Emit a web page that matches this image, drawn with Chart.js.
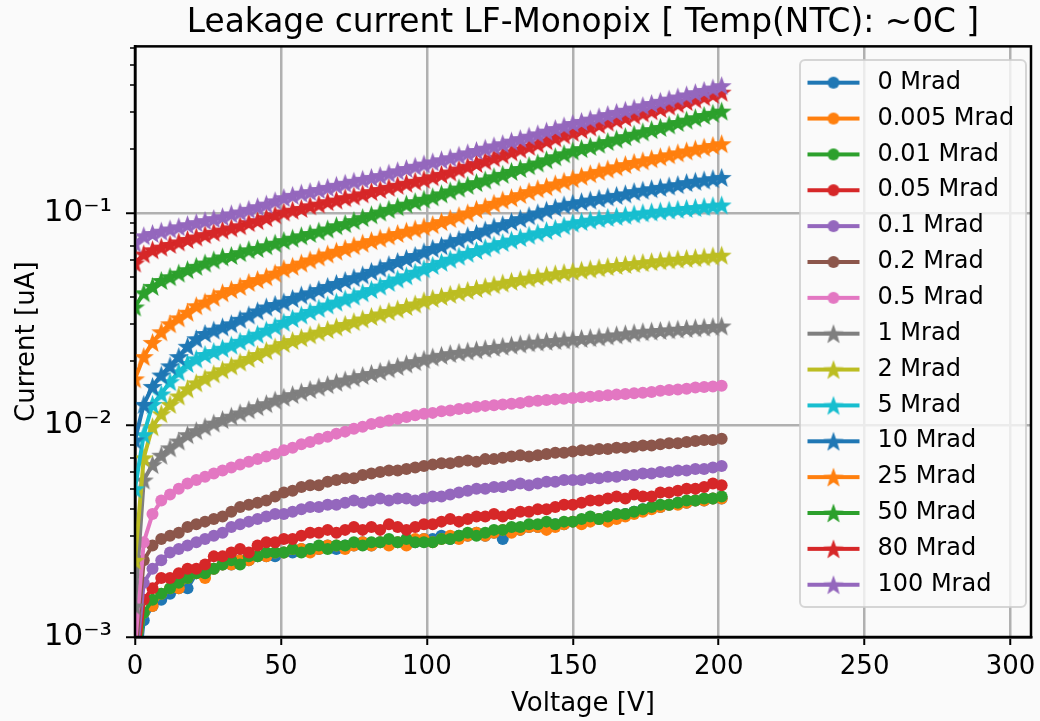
<!DOCTYPE html>
<html><head><meta charset="utf-8">
<script src="https://cdn.jsdelivr.net/npm/chart.js@4/dist/chart.umd.min.js"></script>
<style>html,body{margin:0;padding:0;background:#fafafa;}</style>
</head><body>
<canvas id="c" width="1040" height="721"></canvas>
<script>
const voltage = [0,3,6,9,12,15,18,21,24,27,30,33,36,39,42,45,48,
 51,54,57,60,63,66,69,72,75,78,81,84,87,90,93,96,99,
 102,105,108,111,114,117,120,123,126,129,132,135,138,141,144,147,150,
 153,156,159,162,165,168,171,174,177,180,183,186,189,192,195,198,201];

const mrad0 = [0.0005,0.0012,0.0014,0.0015,0.0016,0.0017,0.0017,0.0020,0.0021,0.0021,0.0022,0.0022,0.0023,0.0023,0.0024,0.0024,0.0024,
 0.0025,0.0025,0.0026,0.0026,0.0026,0.0027,0.0026,0.0027,0.0027,0.0028,0.0027,0.0028,0.0028,0.0028,0.0029,0.0028,0.0029,
 0.0029,0.0030,0.0029,0.0030,0.0030,0.0031,0.0030,0.0031,0.0029,0.0032,0.0032,0.0033,0.0033,0.0034,0.0034,0.0034,0.0035,
 0.0035,0.0036,0.0036,0.0037,0.0037,0.0038,0.0039,0.0040,0.0041,0.0041,0.0042,0.0043,0.0043,0.0044,0.0044,0.0045,0.0045];
const mrad0005 = [0.0006,0.0013,0.0014,0.0016,0.0017,0.0017,0.0019,0.0020,0.0019,0.0021,0.0022,0.0022,0.0023,0.0023,0.0024,0.0024,0.0025,
 0.0025,0.0026,0.0026,0.0025,0.0026,0.0027,0.0027,0.0026,0.0027,0.0028,0.0027,0.0028,0.0027,0.0028,0.0027,0.0029,0.0029,
 0.0028,0.0029,0.0030,0.0029,0.0030,0.0031,0.0030,0.0031,0.0032,0.0031,0.0032,0.0033,0.0033,0.0032,0.0033,0.0034,0.0035,
 0.0034,0.0035,0.0036,0.0035,0.0036,0.0037,0.0038,0.0039,0.0040,0.0041,0.0042,0.0042,0.0043,0.0044,0.0044,0.0045,0.0045];
const mrad001 = [0.0006,0.0013,0.0015,0.0016,0.0017,0.0018,0.0019,0.0020,0.0020,0.0021,0.0022,0.0023,0.0022,0.0024,0.0024,0.0025,0.0025,
 0.0025,0.0026,0.0025,0.0026,0.0027,0.0026,0.0027,0.0027,0.0028,0.0027,0.0028,0.0028,0.0029,0.0028,0.0029,0.0028,0.0028,
 0.0028,0.0029,0.0029,0.0030,0.0031,0.0030,0.0031,0.0032,0.0032,0.0033,0.0033,0.0034,0.0034,0.0035,0.0034,0.0035,0.0035,
 0.0036,0.0037,0.0036,0.0037,0.0038,0.0038,0.0039,0.0040,0.0041,0.0042,0.0042,0.0043,0.0044,0.0044,0.0045,0.0045,0.0046];
const mrad005 = [0.0006,0.0015,0.0017,0.0019,0.0019,0.0020,0.0021,0.0021,0.0022,0.0024,0.0024,0.0025,0.0026,0.0025,0.0027,0.0028,0.0028,
 0.0029,0.0029,0.0030,0.0031,0.0031,0.0032,0.0031,0.0032,0.0033,0.0032,0.0033,0.0032,0.0034,0.0033,0.0032,0.0033,0.0034,
 0.0034,0.0035,0.0036,0.0035,0.0036,0.0037,0.0037,0.0038,0.0037,0.0038,0.0039,0.0039,0.0040,0.0040,0.0041,0.0042,0.0042,
 0.0043,0.0044,0.0044,0.0045,0.0046,0.0045,0.0047,0.0046,0.0046,0.0048,0.0048,0.0049,0.0050,0.0050,0.0051,0.0053,0.0052];
const mrad01 = [0.0007,0.0018,0.0021,0.0023,0.0025,0.0026,0.0027,0.0028,0.0029,0.0030,0.0031,0.0033,0.0034,0.0035,0.0036,0.0037,0.0038,
 0.0038,0.0039,0.0040,0.0041,0.0041,0.0042,0.0042,0.0043,0.0044,0.0043,0.0044,0.0045,0.0044,0.0045,0.0045,0.0044,0.0045,
 0.0046,0.0046,0.0047,0.0048,0.0049,0.0050,0.0050,0.0051,0.0051,0.0052,0.0053,0.0052,0.0053,0.0054,0.0054,0.0055,0.0055,
 0.0055,0.0056,0.0056,0.0057,0.0057,0.0058,0.0058,0.0059,0.0059,0.0060,0.0060,0.0061,0.0061,0.0062,0.0062,0.0063,0.0064];
const mrad02 = [0.0008,0.0023,0.0027,0.0029,0.0030,0.0031,0.0033,0.0034,0.0035,0.0036,0.0037,0.0039,0.0041,0.0042,0.0043,0.0044,0.0046,
 0.0048,0.0049,0.0051,0.0052,0.0052,0.0054,0.0055,0.0056,0.0056,0.0058,0.0059,0.0060,0.0061,0.0061,0.0062,0.0063,0.0064,
 0.0065,0.0066,0.0066,0.0067,0.0068,0.0067,0.0069,0.0069,0.0070,0.0071,0.0072,0.0071,0.0072,0.0073,0.0074,0.0074,0.0075,
 0.0076,0.0076,0.0077,0.0077,0.0078,0.0078,0.0079,0.0080,0.0080,0.0081,0.0082,0.0082,0.0083,0.0084,0.0085,0.0085,0.0086];
const mrad05 = [0.0009,0.0028,0.0038,0.0044,0.0047,0.0050,0.0053,0.0055,0.0057,0.0059,0.0061,0.0063,0.0065,0.0067,0.0069,0.0071,0.0073,
 0.0076,0.0078,0.0081,0.0083,0.0086,0.0088,0.0091,0.0093,0.0096,0.0098,0.0101,0.0103,0.0105,0.0107,0.0109,0.0111,0.0113,
 0.0114,0.0116,0.0117,0.0119,0.0120,0.0122,0.0123,0.0124,0.0125,0.0126,0.0127,0.0129,0.0130,0.0131,0.0132,0.0133,0.0134,
 0.0135,0.0136,0.0137,0.0138,0.0139,0.0140,0.0141,0.0142,0.0143,0.0145,0.0146,0.0147,0.0148,0.0150,0.0151,0.0152,0.0153];
const mrad1 = [0.0014,0.0055,0.0065,0.0072,0.0078,0.0084,0.0090,0.0094,0.0098,0.0102,0.0106,0.0110,0.0114,0.0118,0.0122,0.0126,0.0131,
 0.0135,0.0139,0.0143,0.0147,0.0151,0.0155,0.0159,0.0163,0.0167,0.0171,0.0175,0.0179,0.0184,0.0189,0.0194,0.0199,0.0204,
 0.0209,0.0213,0.0217,0.0220,0.0223,0.0226,0.0229,0.0232,0.0235,0.0238,0.0241,0.0244,0.0246,0.0248,0.0250,0.0252,0.0254,
 0.0256,0.0258,0.0260,0.0263,0.0266,0.0269,0.0272,0.0275,0.0277,0.0279,0.0281,0.0283,0.0285,0.0287,0.0289,0.0291,0.0293];
const mrad2 = [0.0023,0.0070,0.0098,0.0113,0.0125,0.0137,0.0148,0.0158,0.0166,0.0174,0.0182,0.0190,0.0198,0.0206,0.0215,0.0224,0.0233,
 0.0242,0.0250,0.0258,0.0266,0.0274,0.0282,0.0290,0.0298,0.0307,0.0316,0.0325,0.0334,0.0343,0.0352,0.0362,0.0372,0.0385,
 0.0395,0.0404,0.0413,0.0422,0.0431,0.0440,0.0449,0.0458,0.0467,0.0476,0.0485,0.0493,0.0501,0.0509,0.0516,0.0523,0.0530,
 0.0537,0.0544,0.0551,0.0558,0.0565,0.0571,0.0577,0.0583,0.0589,0.0595,0.0600,0.0605,0.0610,0.0615,0.0620,0.0626,0.0632];
const mrad5 = [0.0050,0.0090,0.0125,0.0140,0.0160,0.0178,0.0195,0.0205,0.0215,0.0222,0.0230,0.0238,0.0248,0.0258,0.0268,0.0280,0.0292,
 0.0305,0.0318,0.0330,0.0343,0.0355,0.0368,0.0380,0.0393,0.0405,0.0420,0.0435,0.0452,0.0470,0.0488,0.0505,0.0525,0.0545,
 0.0565,0.0585,0.0605,0.0625,0.0645,0.0665,0.0685,0.0705,0.0725,0.0745,0.0765,0.0785,0.0805,0.0825,0.0845,0.0870,0.0895,
 0.0910,0.0925,0.0940,0.0952,0.0964,0.0976,0.0988,0.1000,0.1010,0.1020,0.1030,0.1040,0.1050,0.1060,0.1070,0.1080,0.1090];
const mrad10 = [0.0085,0.0125,0.0152,0.0172,0.0190,0.0210,0.0235,0.0255,0.0270,0.0280,0.0290,0.0300,0.0315,0.0330,0.0345,0.0360,0.0370,
 0.0380,0.0395,0.0410,0.0420,0.0435,0.0450,0.0465,0.0480,0.0495,0.0510,0.0530,0.0550,0.0570,0.0590,0.0610,0.0630,0.0655,
 0.0680,0.0700,0.0730,0.0750,0.0780,0.0800,0.0830,0.0860,0.0880,0.0910,0.0940,0.0970,0.1000,0.1030,0.1060,0.1090,0.1110,
 0.1130,0.1150,0.1170,0.1190,0.1210,0.1230,0.1260,0.1280,0.1300,0.1320,0.1340,0.1360,0.1390,0.1410,0.1430,0.1450,0.1470];
const mrad25 = [0.0165,0.0210,0.0245,0.0275,0.0300,0.0320,0.0340,0.0365,0.0380,0.0400,0.0420,0.0435,0.0450,0.0470,0.0485,0.0500,0.0520,
 0.0545,0.0560,0.0580,0.0600,0.0620,0.0640,0.0660,0.0680,0.0700,0.0720,0.0740,0.0760,0.0780,0.0800,0.0820,0.0840,0.0860,
 0.0880,0.0910,0.0940,0.0970,0.1000,0.1040,0.1070,0.1110,0.1150,0.1180,0.1220,0.1260,0.1300,0.1330,0.1370,0.1410,0.1450,
 0.1490,0.1530,0.1570,0.1610,0.1650,0.1690,0.1730,0.1760,0.1800,0.1840,0.1880,0.1920,0.1960,0.2000,0.2040,0.2080,0.2120];
const mrad50 = [0.0360,0.0420,0.0450,0.0480,0.0500,0.0520,0.0540,0.0560,0.0580,0.0600,0.0620,0.0630,0.0650,0.0670,0.0680,0.0700,0.0720,
 0.0740,0.0760,0.0780,0.0800,0.0820,0.0840,0.0870,0.0890,0.0920,0.0950,0.0980,0.1010,0.1040,0.1070,0.1100,0.1130,0.1160,
 0.1190,0.1230,0.1270,0.1310,0.1350,0.1390,0.1430,0.1480,0.1520,0.1570,0.1620,0.1670,0.1720,0.1780,0.1840,0.1900,0.1960,
 0.2010,0.2060,0.2110,0.2170,0.2230,0.2290,0.2350,0.2410,0.2470,0.2530,0.2600,0.2670,0.2740,0.2810,0.2880,0.2950,0.3020];
const mrad80 = [0.0580,0.0640,0.0670,0.0690,0.0710,0.0730,0.0750,0.0770,0.0790,0.0810,0.0830,0.0850,0.0870,0.0900,0.0920,0.0950,0.0980,
 0.1010,0.1030,0.1050,0.1080,0.1100,0.1130,0.1150,0.1180,0.1200,0.1230,0.1260,0.1290,0.1320,0.1350,0.1380,0.1410,0.1440,
 0.1480,0.1520,0.1560,0.1610,0.1660,0.1710,0.1760,0.1820,0.1880,0.1940,0.2000,0.2060,0.2120,0.2190,0.2260,0.2330,0.2400,
 0.2470,0.2540,0.2610,0.2680,0.2750,0.2820,0.2890,0.2960,0.3030,0.3110,0.3190,0.3270,0.3350,0.3440,0.3530,0.3620,0.3710];
const mrad100 = [0.0720,0.0780,0.0800,0.0820,0.0840,0.0860,0.0880,0.0900,0.0920,0.0940,0.0960,0.0990,0.1010,0.1040,0.1070,0.1100,0.1140,
 0.1180,0.1210,0.1240,0.1260,0.1290,0.1320,0.1350,0.1380,0.1410,0.1440,0.1470,0.1500,0.1540,0.1580,0.1620,0.1660,0.1700,
 0.1740,0.1780,0.1820,0.1870,0.1920,0.1970,0.2020,0.2070,0.2120,0.2180,0.2240,0.2300,0.2360,0.2430,0.2500,0.2570,0.2640,
 0.2700,0.2770,0.2840,0.2910,0.2980,0.3050,0.3120,0.3200,0.3280,0.3360,0.3440,0.3520,0.3600,0.3690,0.3780,0.3880,0.3980];

const seriesLabels = ['0 Mrad','0.005 Mrad','0.01 Mrad','0.05 Mrad','0.1 Mrad','0.2 Mrad','0.5 Mrad',
 '1 Mrad','2 Mrad','5 Mrad','10 Mrad','25 Mrad','50 Mrad','80 Mrad','100 Mrad'];
const seriesValues = [mrad0, mrad0005, mrad001, mrad005, mrad01, mrad02, mrad05,
 mrad1, mrad2, mrad5, mrad10, mrad25, mrad50, mrad80, mrad100];
const seriesColors = ['#1f77b4','#ff7f0e','#2ca02c','#d62728','#9467bd','#8c564b','#e377c2',
 '#7f7f7f','#bcbd22','#17becf','#1f77b4','#ff7f0e','#2ca02c','#d62728','#9467bd'];
const seriesMarkers = ['circle','circle','circle','circle','circle','circle','circle',
 'star','star','star','star','star','star','star','star'];

const xTickValues = [0, 50, 100, 150, 200, 250, 300];
const yTickValues = [0.001, 0.01, 0.1];
const yTickLabels = ['10⁻³', '10⁻²', '10⁻¹'];
const titleText = 'Leakage current LF-Monopix [ Temp(NTC): ~0C ]';
const xTitle = 'Voltage [V]';
const yTitle = 'Current [uA]';
const xMax = 307, yMin = 0.001, yMax = 0.61;

const FONT = 'DejaVu Sans';
const BG = '#fafafa';
const CIRCLE_R = 6, STAR_SIZE = 21, LINE_W = 4;

function drawStar(g, cx, cy, R, color) {
  const r = R * 0.41;
  g.beginPath();
  for (let k = 0; k < 10; k++) {
    const a = -Math.PI / 2 + k * Math.PI / 5;
    const rad = (k % 2) ? r : R;
    g.lineTo(cx + rad * Math.cos(a), cy + rad * Math.sin(a));
  }
  g.closePath(); g.fillStyle = color; g.fill();
}
function starImage(color) {
  const c = document.createElement('canvas'); c.width = STAR_SIZE; c.height = STAR_SIZE;
  drawStar(c.getContext('2d'), STAR_SIZE / 2, STAR_SIZE / 2 + 1, STAR_SIZE / 2, color);
  return c;
}
function legendImage(color, marker) {
  const c = document.createElement('canvas'); c.width = 54; c.height = 24;
  const g = c.getContext('2d');
  g.strokeStyle = color; g.lineWidth = 4; g.beginPath(); g.moveTo(1, 12); g.lineTo(53, 12); g.stroke();
  if (marker === 'star') drawStar(g, 27, 13, STAR_SIZE / 2, color);
  else { g.beginPath(); g.arc(27, 12, CIRCLE_R, 0, Math.PI * 2); g.fillStyle = color; g.fill(); }
  return c;
}
const legendIcons = seriesColors.map((c, i) => legendImage(c, seriesMarkers[i]));

const datasets = seriesValues.map((vals, i) => ({
  label: seriesLabels[i],
  data: voltage.map((v, j) => ({x: v, y: vals[j]})),
  borderColor: seriesColors[i],
  backgroundColor: seriesColors[i],
  borderWidth: LINE_W,
  pointStyle: seriesMarkers[i] === 'star' ? starImage(seriesColors[i]) : 'circle',
  pointRadius: CIRCLE_R,
  pointBorderWidth: 0,
  pointBackgroundColor: seriesColors[i],
  tension: 0,
  order: seriesValues.length - 1 - i
}));

const isDecade = (v) => v > 0 && Math.abs(Math.log10(v) - Math.round(Math.log10(v))) < 1e-6;

const helperPlugin = {
  id: 'helper',
  beforeDraw(chart) {
    const ctx = chart.ctx; ctx.save(); ctx.fillStyle = BG; ctx.fillRect(0, 0, chart.width, chart.height); ctx.restore();
  },
  afterLayout(chart) {
    const lg = chart.legend;
    if (!lg) return;
    lg.left = 789.6; lg.top = 58.8; lg.right = 1036; lg.bottom = 721;
    lg.width = lg.right - lg.left; lg.height = lg.bottom - lg.top;
    if (!lg._framePatched) {
      const orig = lg.draw;
      lg.draw = function () {
        const ctx = chart.ctx;
        ctx.save();
        const x = 800, y = 60, w = 226, h = 547, r = 5;
        ctx.beginPath();
        ctx.moveTo(x + r, y); ctx.lineTo(x + w - r, y); ctx.arcTo(x + w, y, x + w, y + r, r);
        ctx.lineTo(x + w, y + h - r); ctx.arcTo(x + w, y + h, x + w - r, y + h, r);
        ctx.lineTo(x + r, y + h); ctx.arcTo(x, y + h, x, y + h - r, r);
        ctx.lineTo(x, y + r); ctx.arcTo(x, y, x + r, y, r); ctx.closePath();
        ctx.fillStyle = 'rgba(250,250,250,0.8)'; ctx.fill();
        ctx.lineWidth = 2; ctx.strokeStyle = 'rgba(204,204,204,0.8)'; ctx.stroke();
        ctx.restore();
        return orig.apply(this, arguments);
      };
      lg._framePatched = true;
    }
  },
  afterDatasetsDraw(chart) {
    const a = chart.chartArea, ctx = chart.ctx;
    ctx.save(); ctx.strokeStyle = '#000'; ctx.lineWidth = 2.5;
    ctx.strokeRect(a.left, a.top, a.right - a.left, a.bottom - a.top);
    ctx.restore();
  }
};

new Chart(document.getElementById('c'), {
  type: 'line',
  data: { datasets },
  plugins: [helperPlugin],
  options: {
    responsive: false, animation: false, devicePixelRatio: 1,
    layout: { padding: { left: 0, right: 8, top: 0, bottom: 0 } },
    font: { family: FONT },
    plugins: {
      title: { display: true, text: titleText, color: '#000', fullSize: false,
        font: { family: FONT, size: 32.8, weight: 'normal' }, padding: { top: 4, bottom: 3 } },
      legend: {
        display: true, position: 'right', align: 'start', maxWidth: 1,
        labels: {
          usePointStyle: true, pointStyleWidth: 64, padding: 11.86, color: '#000',
          font: { family: FONT, size: 24 },
          generateLabels: (chart) => chart.data.datasets.map((ds, i) => ({
            text: ds.label, pointStyle: legendIcons[i], datasetIndex: i, hidden: false,
            fontColor: '#000', lineWidth: 0, strokeStyle: 'rgba(0,0,0,0)', fillStyle: ds.borderColor
          }))
        }
      },
      tooltip: { enabled: false }
    },
    scales: {
      x: {
        type: 'linear', min: 0, max: xMax,
        afterBuildTicks: (s) => { s.ticks = xTickValues.map(v => ({ value: v })); },
        afterFit: (s) => { s.height = 84; s.paddingRight = 0; s.paddingLeft = 0; },
        ticks: { color: '#000', font: { family: FONT, size: 26 }, padding: 7, autoSkip: false, maxRotation: 0,
          callback: (v) => String(v) },
        grid: { color: '#b0b0b0', lineWidth: 2.5, tickColor: '#000', tickWidth: 2, tickLength: 8, drawTicks: true },
        border: { color: '#000', width: 2.5 },
        title: { display: true, text: xTitle, color: '#000', font: { family: FONT, size: 26 }, padding: { top: 0, bottom: 1 } }
      },
      y: {
        type: 'logarithmic', min: yMin, max: yMax,
        afterBuildTicks: (s) => {
          const t = [];
          yTickValues.forEach(d => { for (let m = 1; m <= 9; m++) { const v = +(m * d).toPrecision(6); if (v <= yMax) t.push({ value: v, major: m === 1 }); } });
          s.ticks = t;
        },
        afterFit: (s) => { s.width = 135; },
        ticks: { color: '#000', font: { family: FONT, size: 31 }, padding: 14, autoSkip: false,
          callback: (v) => { const k = yTickValues.findIndex(t => Math.abs(Math.log10(t) - Math.log10(v)) < 1e-6); return k >= 0 ? yTickLabels[k] : ''; } },
        grid: {
          color: (c) => (c.tick && isDecade(c.tick.value)) ? '#b0b0b0' : 'rgba(0,0,0,0)',
          lineWidth: (c) => (c.tick && isDecade(c.tick.value)) ? 2.5 : 0,
          tickColor: '#000',
          tickWidth: (c) => (c.tick && isDecade(c.tick.value)) ? 2 : 1.5,
          tickLength: 9,
          tickBorderDash: (c) => (c.tick && isDecade(c.tick.value)) ? [] : [0, 4, 20]
        },
        border: { color: '#000', width: 2.5 },
        title: { display: true, text: yTitle, color: '#000', font: { family: FONT, size: 26 }, padding: { top: 12, bottom: 0 } }
      }
    }
  }
});
</script>
</body></html>
